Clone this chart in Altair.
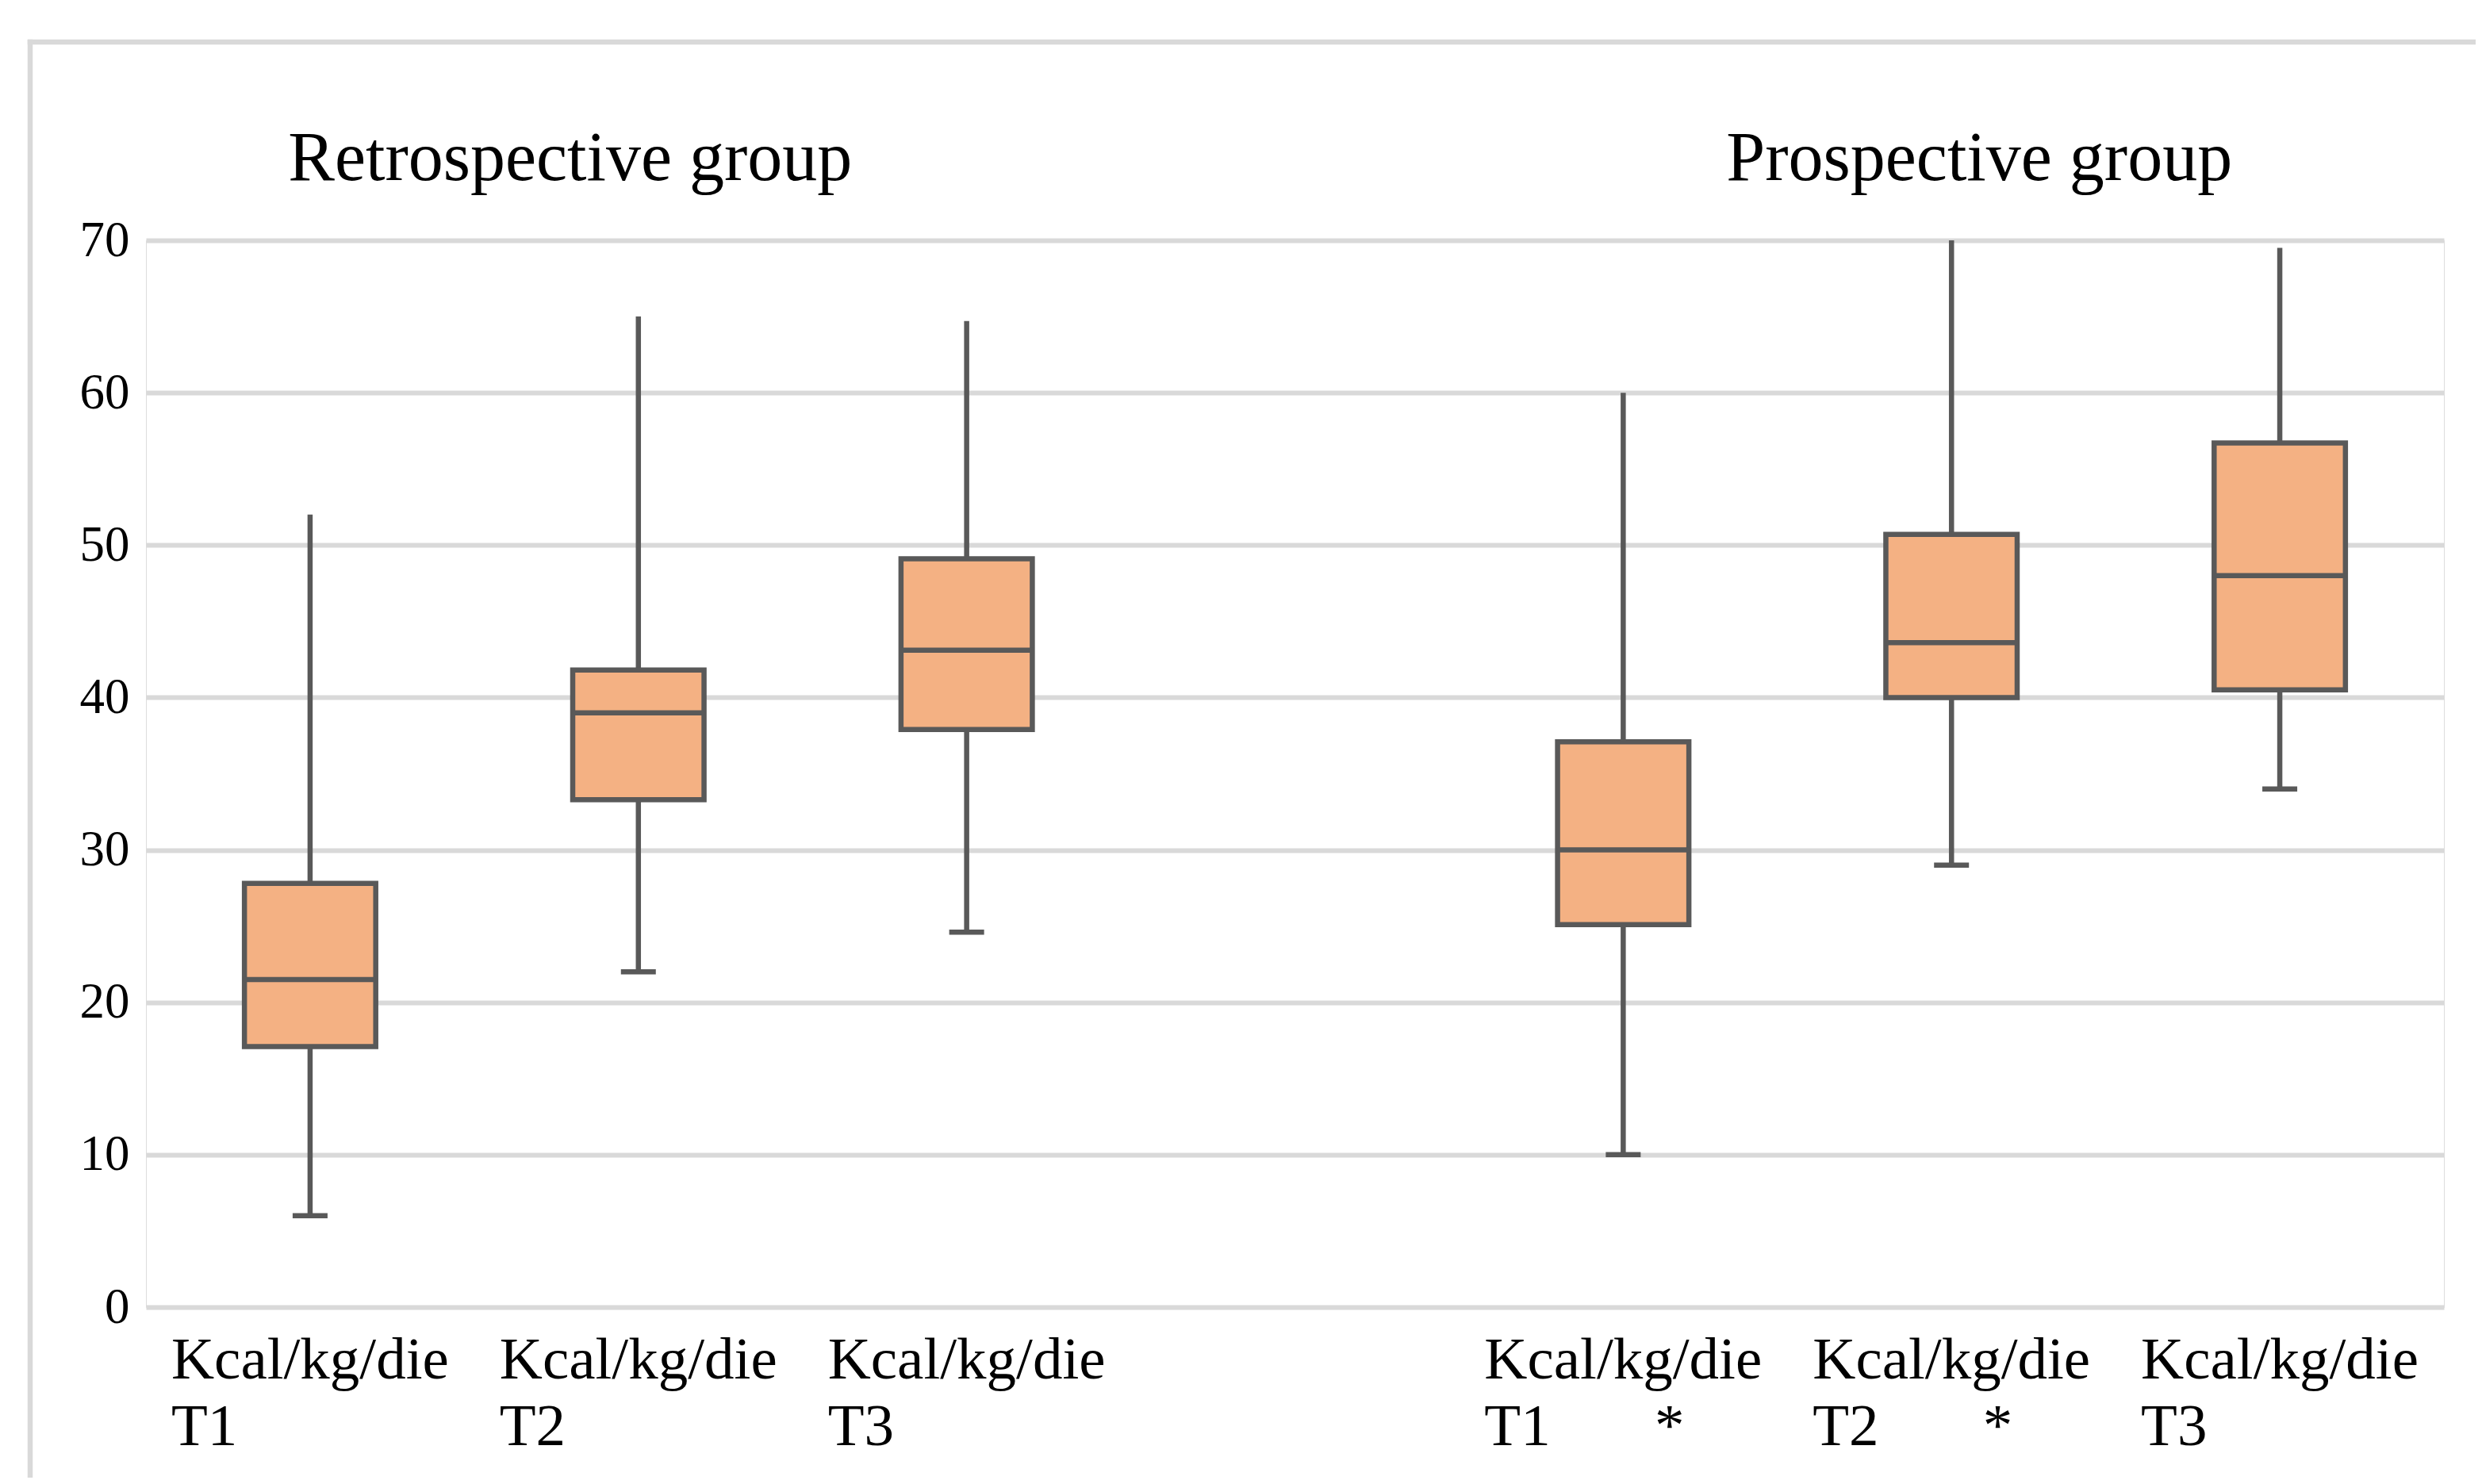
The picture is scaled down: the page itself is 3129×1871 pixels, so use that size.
import json
import altair as alt
import pandas as pd

NB = "\u00a0"

# ---- data ----
keys = ["R1", "R2", "R3", "P1", "P2", "P3"]
slots = ["R1", "R2", "R3", "gap", "P1", "P2", "P3"]
label_line1 = ["Kcal/kg/die", "Kcal/kg/die", "Kcal/kg/die", "Kcal/kg/die", "Kcal/kg/die", "Kcal/kg/die"]
label_line2 = ["T1", "T2", "T3", "T1" + NB * 7 + "*", "T2" + NB * 7 + "*", "T3"]
whisker_low = [6, 22, 24.6, 10, 29, 34]
q1 = [17.1, 33.3, 37.9, 25.1, 40, 40.5]
median = [21.5, 39, 43.1, 30, 43.6, 48]
q3 = [27.8, 41.8, 49.1, 37.1, 50.7, 56.7]
whisker_high = [52, 65, 64.7, 60, 70, 69.5]
group_titles = ["Retrospective group", "Prospective group"]
title_anchor = ["R2", "P2"]
title_dx = [-86, 35]
y_ticks = [0, 10, 20, 30, 40, 50, 60, 70]

df = pd.DataFrame({"key": keys, "lo": whisker_low, "q1": q1, "med": median,
                   "q3": q3, "hi": whisker_high})

# ---- layout ----
W, H = 2897, 1345
PL, PT, PB = 176, 295, 215
PR = 3113 - PL - W

FONT = "Liberation Serif"
BOX = "#595959"
FILL = "#f4b183"
GRID = "#d9d9d9"
SW = 6.5

label_map = {k: [a, b] for k, a, b in zip(keys, label_line1, label_line2)}
label_map["gap"] = [""]
label_expr = "(" + json.dumps(label_map, ensure_ascii=False) + ")[datum.value]"

x_axis = alt.Axis(domain=False, ticks=False, tickSize=0, grid=False,
                  labelExpr=label_expr, labelAlign="left", labelOffset=-175,
                  labelBaseline="top", labelPadding=30, labelLineHeight=84,
                  labelFont=FONT, labelFontSize=75, labelColor="#000000",
                  labelLimit=0, labelOverlap=False, labelAngle=0)
x_scale = alt.Scale(domain=slots, paddingInner=0, paddingOuter=0)
x_enc = alt.X("key:N", scale=x_scale, axis=x_axis, title=None)

y_axis = alt.Axis(values=y_ticks, grid=True, gridColor=GRID, gridWidth=6,
                  domain=False, ticks=False, tickSize=0, labelPadding=21,
                  labelFont=FONT, labelFontSize=63, labelColor="#000000")
y_scale = alt.Scale(domain=[0, 70], nice=False)


def Y(field):
    return alt.Y(field + ":Q", scale=y_scale, axis=y_axis, title=None)


base = alt.Chart(df).encode(x=x_enc)

whiskers = base.mark_rule(color=BOX, strokeWidth=SW).encode(y=Y("lo"), y2="hi:Q")
boxes = base.mark_bar(width=alt.RelativeBandSize(0.4), fill=FILL, stroke=BOX,
                      strokeWidth=SW).encode(y=Y("q1"), y2="q3:Q")
medians = base.mark_tick(color=BOX, size=166, thickness=SW, opacity=1).encode(y=Y("med"))
caps_lo = base.mark_tick(color=BOX, size=44, thickness=SW, opacity=1).encode(y=Y("lo"))

frame_df = pd.DataFrame({"v": [0]})
frame_left = alt.Chart(frame_df).mark_rule(color=GRID, strokeWidth=6.5).encode(
    x=alt.value(-146), y=alt.value(-253.25), y2=alt.value(H + PB))
frame_top = alt.Chart(frame_df).mark_rule(color=GRID, strokeWidth=6.5).encode(
    x=alt.value(-149.25), x2=alt.value(W + PR), y=alt.value(-250))

titles = []
for t, a, dx in zip(group_titles, title_anchor, title_dx):
    titles.append(
        alt.Chart(pd.DataFrame({"key": [a], "t": [t]}))
        .mark_text(dx=dx, font=FONT, fontSize=88, baseline="alphabetic",
                   align="center", color="#000000")
        .encode(x=x_enc, y=alt.value(-76), text="t:N")
    )

chart = alt.layer(frame_left, frame_top, whiskers, boxes, medians, caps_lo,
                  *titles).properties(
    width=W, height=H,
    autosize=alt.AutoSizeParams(type="none"),
    padding={"left": PL, "top": PT, "right": PR, "bottom": PB},
).configure_view(strokeWidth=0).configure(background="white")

chart.save("out.html", embed_options={"renderer": "svg", "actions": False})
